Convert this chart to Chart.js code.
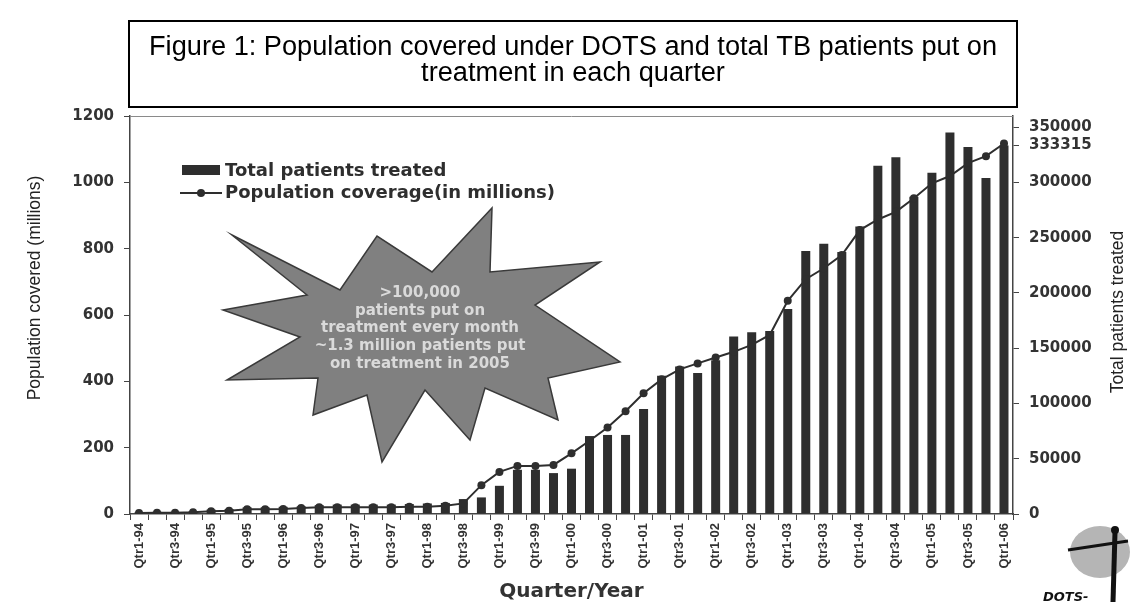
<!DOCTYPE html>
<html>
<head>
<meta charset="utf-8">
<script src="https://cdn.jsdelivr.net/npm/chart.js@4.4.1/dist/chart.umd.min.js"></script>
<style>
html, body { margin: 0; padding: 0; background: #fff; }
#wrap { width: 1133px; height: 609px; position: relative; }
</style>
</head>
<body>
<div id="wrap"><canvas id="tbChart" width="1133" height="609"></canvas></div>
<script>
// Quarters Qtr1-94 .. Qtr1-06
const quarters = [
    'Qtr1-94', 'Qtr2-94', 'Qtr3-94', 'Qtr4-94',
    'Qtr1-95', 'Qtr2-95', 'Qtr3-95', 'Qtr4-95',
    'Qtr1-96', 'Qtr2-96', 'Qtr3-96', 'Qtr4-96',
    'Qtr1-97', 'Qtr2-97', 'Qtr3-97', 'Qtr4-97',
    'Qtr1-98', 'Qtr2-98', 'Qtr3-98', 'Qtr4-98',
    'Qtr1-99', 'Qtr2-99', 'Qtr3-99', 'Qtr4-99',
    'Qtr1-00', 'Qtr2-00', 'Qtr3-00', 'Qtr4-00',
    'Qtr1-01', 'Qtr2-01', 'Qtr3-01', 'Qtr4-01',
    'Qtr1-02', 'Qtr2-02', 'Qtr3-02', 'Qtr4-02',
    'Qtr1-03', 'Qtr2-03', 'Qtr3-03', 'Qtr4-03',
    'Qtr1-04', 'Qtr2-04', 'Qtr3-04', 'Qtr4-04',
    'Qtr1-05', 'Qtr2-05', 'Qtr3-05', 'Qtr4-05',
    'Qtr1-06'
];

// Total patients treated per quarter (right axis)
const patientsTreated = [
    1500, 2000, 2000, 2500, 4000, 4500, 6000, 6000, 6500, 7000,
    8000, 8500, 8500, 8500, 8500, 9000, 9500, 10000, 13500, 15000,
    25500, 40000, 40000, 37000, 41000, 70500, 71500, 71500, 95000, 125000,
    133500, 127500, 139000, 160500, 164500, 165500, 185500, 238000, 244500, 237000,
    260000, 315000, 322700, 287000, 308600, 345000, 332000, 304000, 333315
];

// Population covered, millions (left axis)
const populationCovered = [
    3, 4, 4, 5, 8, 10, 14, 14, 15, 18,
    20, 20, 20, 20, 20, 22, 22, 25, 32, 87,
    127, 145, 145, 148, 183, 221, 261, 310, 364, 406,
    436, 454, 472, 489, 510, 540, 643, 708, 741, 781,
    856, 888, 911, 952, 997, 1019, 1058, 1079, 1117
];

const leftTicks = [0, 200, 400, 600, 800, 1000, 1200];
const rightTicks = [0, 50000, 100000, 150000, 200000, 250000, 300000, 350000, 333315];

const titleLines = [
    'Figure 1: Population covered under DOTS and total TB patients put on',
    'treatment in each quarter'
];
const leftTitle = 'Population covered (millions)';
const rightTitle = 'Total patients treated';
const burstLines = [
    '>100,000',
    'patients put on',
    'treatment every month',
    '~1.3 million patients put',
    'on treatment in 2005'
];

// Starburst outline (decoration, pixels)
const burstShape = [
    [232, 235], [340, 290], [377, 236], [432, 272], [492, 208], [490, 272],
    [600, 262], [535, 305], [620, 362], [548, 378], [558, 420], [485, 388],
    [470, 440], [425, 390], [382, 462], [367, 395], [313, 415], [318, 378],
    [227, 380], [300, 337], [223, 310], [307, 295]
];

const INK = '#2e2e2e';
const AXIS = '#444444';

function rotatedText(ctx, text, x, y) {
    ctx.save();
    ctx.translate(x, y);
    ctx.rotate(-Math.PI / 2);
    ctx.fillText(text, 0, 0);
    ctx.restore();
}

const decorPlugin = {
    id: 'decor',
    beforeDatasetsDraw(chart) {
        const ctx = chart.ctx;
        ctx.save();
        // plot frame top line
        const a = chart.chartArea;
        ctx.strokeStyle = '#8a8a8a';
        ctx.lineWidth = 1;
        ctx.beginPath();
        ctx.moveTo(a.left, a.top + 0.5);
        ctx.lineTo(a.right, a.top + 0.5);
        ctx.stroke();

        // starburst callout
        ctx.beginPath();
        burstShape.forEach(([x, y], i) => i ? ctx.lineTo(x, y) : ctx.moveTo(x, y));
        ctx.closePath();
        ctx.fillStyle = '#808080';
        ctx.fill();
        ctx.strokeStyle = '#3a3a3a';
        ctx.lineWidth = 1.5;
        ctx.stroke();

        ctx.font = 'bold 15px "DejaVu Sans"';
        ctx.textAlign = 'center';
        ctx.textBaseline = 'middle';
        ctx.fillStyle = '#dadada';
        burstLines.forEach((t, i) => ctx.fillText(t, 420, 293 + i * 17.8));
        ctx.restore();
    },
    afterDraw(chart) {
        const ctx = chart.ctx;
        ctx.save();

        // title box
        ctx.strokeStyle = '#000';
        ctx.lineWidth = 2;
        ctx.strokeRect(129, 21, 888, 86);
        ctx.fillStyle = '#000';
        ctx.font = '27px "Liberation Sans"';
        ctx.textAlign = 'center';
        ctx.textBaseline = 'middle';
        const sx = 848 / ctx.measureText(titleLines[0]).width;
        titleLines.forEach((t, i) => {
            ctx.save();
            ctx.translate(573, 48 + i * 26);
            ctx.scale(sx, 1);
            ctx.fillText(t, 0, 0);
            ctx.restore();
        });

        // axis titles
        ctx.fillStyle = '#222';
        ctx.font = '17.5px "Liberation Sans"';
        rotatedText(ctx, leftTitle, 35, 288);
        rotatedText(ctx, rightTitle, 1118, 312);

        // legend
        const ds = chart.data.datasets;
        ctx.font = 'bold 18px "DejaVu Sans"';
        ctx.textAlign = 'left';
        ctx.fillStyle = INK;
        ctx.fillRect(182, 165, 38, 10);
        ctx.fillText(ds[0].label, 225, 171);
        ctx.strokeStyle = INK;
        ctx.lineWidth = 2;
        ctx.beginPath();
        ctx.moveTo(180, 193);
        ctx.lineTo(222, 193);
        ctx.stroke();
        ctx.beginPath();
        ctx.arc(201, 193, 4, 0, Math.PI * 2);
        ctx.fill();
        ctx.fillText(ds[1].label, 225, 193);

        // DOTS logo (rough)
        ctx.fillStyle = '#b5b5b5';
        ctx.beginPath();
        ctx.ellipse(1100, 552, 30, 26, 0, 0, Math.PI * 2);
        ctx.fill();
        ctx.strokeStyle = '#111';
        ctx.lineWidth = 3;
        ctx.beginPath();
        ctx.moveTo(1068, 550);
        ctx.lineTo(1128, 541);
        ctx.stroke();
        ctx.lineWidth = 5;
        ctx.beginPath();
        ctx.moveTo(1115, 532);
        ctx.lineTo(1113, 602);
        ctx.stroke();
        ctx.fillStyle = '#111';
        ctx.beginPath();
        ctx.arc(1115, 530, 4, 0, Math.PI * 2);
        ctx.fill();
        ctx.font = 'italic bold 13px "DejaVu Sans"';
        ctx.fillText('DOTS-', 1043, 598);
        ctx.restore();
    }
};

const ctx = document.getElementById('tbChart').getContext('2d');
new Chart(ctx, {
    type: 'bar',
    data: {
        labels: quarters,
        datasets: [{
            type: 'bar',
            label: 'Total patients treated',
            data: patientsTreated,
            yAxisID: 'y1',
            backgroundColor: INK,
            barPercentage: 0.5,
            categoryPercentage: 1,
            order: 1
        }, {
            type: 'line',
            label: 'Population coverage(in millions)',
            data: populationCovered,
            yAxisID: 'y',
            borderColor: INK,
            borderWidth: 2,
            backgroundColor: INK,
            pointRadius: 4,
            pointBackgroundColor: INK,
            pointBorderWidth: 0,
            tension: 0,
            order: 0
        }]
    },
    options: {
        responsive: false,
        animation: false,
        layout: { padding: { top: 116, left: 0, right: 0, bottom: 0 } },
        plugins: {
            legend: { display: false },
            tooltip: { enabled: false }
        },
        scales: {
            x: {
                offset: true,
                grid: { offset: true, drawOnChartArea: false, drawTicks: true, tickLength: 6, color: AXIS },
                border: { color: AXIS, width: 1.5 },
                ticks: {
                    autoSkip: false,
                    minRotation: 90,
                    maxRotation: 90,
                    padding: 3,
                    color: '#333',
                    font: { family: 'Liberation Sans', weight: 'bold', size: 13 },
                    callback: (v, i) => (i % 2 === 0 ? quarters[i] : '')
                },
                title: {
                    display: true,
                    text: 'Quarter/Year',
                    color: '#333',
                    font: { family: 'DejaVu Sans', weight: 'bold', size: 20 },
                    padding: { top: 0, bottom: 5 }
                },
                afterFit: (s) => { s.height = 95; }
            },
            y: {
                position: 'left',
                min: 0,
                max: 1200,
                grid: { drawOnChartArea: false, tickLength: 6, color: AXIS },
                border: { color: AXIS, width: 1.5 },
                afterBuildTicks: (s) => { s.ticks = leftTicks.map(v => ({ value: v })); },
                ticks: {
                    padding: 10,
                    color: '#333',
                    font: { family: 'DejaVu Sans', weight: 'bold', size: 15 },
                    callback: (v) => String(v)
                },
                afterFit: (s) => { s.width = 130; }
            },
            y1: {
                position: 'right',
                min: 0,
                max: 360000,
                grid: { drawOnChartArea: false, tickLength: 6, color: AXIS },
                border: { color: AXIS, width: 1.5 },
                afterBuildTicks: (s) => { s.ticks = rightTicks.map(v => ({ value: v })); },
                ticks: {
                    padding: 10,
                    color: '#333',
                    font: { family: 'DejaVu Sans', weight: 'bold', size: 15 },
                    callback: (v) => String(v)
                },
                afterFit: (s) => { s.width = 120; }
            }
        }
    },
    plugins: [decorPlugin]
});
</script>
</body>
</html>
